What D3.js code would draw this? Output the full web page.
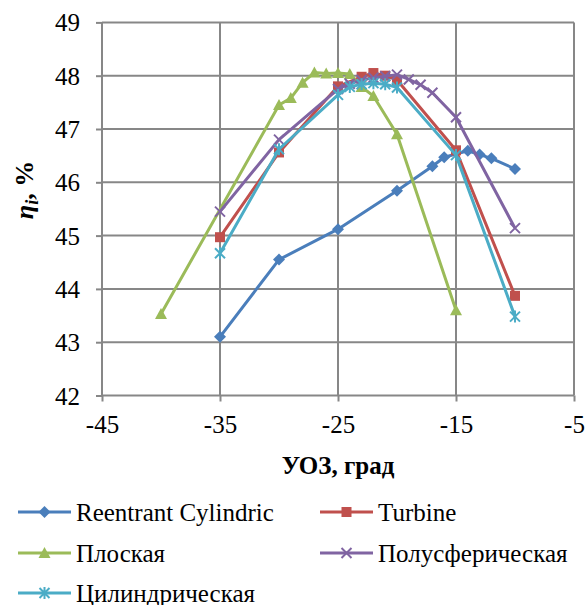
<!DOCTYPE html>
<html>
<head>
<meta charset="utf-8">
<script src="https://cdn.jsdelivr.net/npm/d3@7"></script>
<style>
  html, body { margin: 0; padding: 0; background: #fff; }
</style>
</head>
<body>
<svg id="chart" width="585" height="605"></svg>
<script>
// Ignition advance angle (deg) and indicated efficiency (%) for each chamber shape
const reentrantX = [-35, -30, -25, -20, -17, -16, -14, -13, -12, -10];
const reentrantY = [43.10, 44.55, 45.12, 45.84, 46.30, 46.47, 46.59, 46.52, 46.45, 46.25];

const turbineX = [-35, -30, -25, -23, -22, -21, -20, -15, -10];
const turbineY = [44.97, 46.56, 47.80, 47.98, 48.05, 48.00, 47.92, 46.60, 43.87];

const flatX = [-40, -30, -29, -28, -27, -26, -25, -24, -23, -22, -20, -15];
const flatY = [43.53, 47.45, 47.58, 47.87, 48.06, 48.04, 48.05, 48.03, 47.79, 47.62, 46.90, 43.60];

const hemiX = [-35, -30, -25, -24, -23, -22, -21, -20, -19, -18, -17, -15, -10];
const hemiY = [45.45, 46.80, 47.75, 47.85, 47.92, 47.96, 47.99, 48.02, 47.93, 47.83, 47.68, 47.22, 45.14];

const cylX = [-35, -30, -25, -24, -23, -22, -21, -20, -15, -10];
const cylY = [44.67, 46.62, 47.64, 47.79, 47.84, 47.86, 47.84, 47.78, 46.51, 43.48];

const seriesNames = ["Reentrant Cylindric", "Turbine", "Плоская", "Полусферическая", "Цилиндрическая"];
const seriesColors = ["#4A7EBB", "#C0504D", "#9BBB59", "#8064A2", "#4BACC6"];
const seriesMarkers = ["diamond", "square", "triangle", "cross", "asterisk"];

const xTicks = [-45, -35, -25, -15, -5];
const yTicks = [42, 43, 44, 45, 46, 47, 48, 49];

const xTitle = "УОЗ, град";

const FONT = "Liberation Serif, Tinos, Times New Roman, Times, Noto Serif, DejaVu Serif, FreeSerif, Nimbus Roman, serif";

const series = [
  { x: reentrantX, y: reentrantY },
  { x: turbineX, y: turbineY },
  { x: flatX, y: flatY },
  { x: hemiX, y: hemiY },
  { x: cylX, y: cylY }
].map((s, i) => ({
  name: seriesNames[i], color: seriesColors[i], marker: seriesMarkers[i],
  points: s.x.map((xv, j) => ({ x: xv, y: s.y[j] }))
}));

const svg = d3.select("#chart").style("font-family", FONT);
const plot = { left: 102, right: 574, top: 22.4, bottom: 395.5 };

const x = d3.scaleLinear().domain([-45, -5]).range([plot.left, plot.right]);
const y = d3.scaleLinear().domain([42, 49]).range([plot.bottom, plot.top]);

const gridColor = "#878787";

// Gridlines
const grid = svg.append("g");
grid.selectAll("line.h").data(yTicks).join("line")
  .attr("x1", plot.left).attr("x2", plot.right)
  .attr("y1", d => y(d)).attr("y2", d => y(d))
  .attr("stroke", gridColor).attr("stroke-width", 2);
grid.selectAll("line.v").data(xTicks).join("line")
  .attr("y1", plot.top).attr("y2", plot.bottom)
  .attr("x1", d => x(d)).attr("x2", d => x(d))
  .attr("stroke", gridColor).attr("stroke-width", 2);

// Axes (plain hyphen for negative numbers)
const fmt = d => String(d);
const xAxis = svg.append("g")
  .attr("transform", `translate(0,${plot.bottom})`)
  .call(d3.axisBottom(x).tickValues(xTicks).tickSize(6).tickPadding(14).tickFormat(fmt));
const yAxis = svg.append("g")
  .attr("transform", `translate(${plot.left},0)`)
  .call(d3.axisLeft(y).tickValues(yTicks).tickSize(6).tickPadding(16).tickFormat(fmt));
[xAxis, yAxis].forEach(g => {
  g.attr("font-family", null).attr("font-size", 25);
  g.select(".domain").remove();
  g.selectAll(".tick line").attr("stroke", gridColor).attr("stroke-width", 2);
  g.selectAll(".tick text").attr("fill", "#000").style("font-family", FONT);
});
yAxis.selectAll(".tick text").attr("dy", "0.34em");

// Axis titles
svg.append("text")
  .attr("x", x(-25)).attr("y", 474)
  .attr("text-anchor", "middle")
  .style("font-family", FONT)
  .attr("font-size", 25).attr("font-weight", "bold")
  .text(xTitle);

const yTitle = svg.append("text")
  .attr("transform", "translate(33,190) rotate(-90)")
  .attr("text-anchor", "middle")
  .style("font-family", FONT)
  .attr("font-size", 26).attr("font-weight", "bold");
yTitle.append("tspan").attr("font-style", "italic").text("η");
yTitle.append("tspan").attr("font-style", "italic").attr("font-size", 18).attr("dy", 5).text("i");
yTitle.append("tspan").attr("dy", -5).text(", %");

// Marker drawing
function drawMarker(g, type, color) {
  switch (type) {
    case "diamond":
      g.append("path").attr("d", "M0,-6L6,0L0,6L-6,0Z").attr("fill", color);
      break;
    case "square":
      g.append("rect").attr("x", -5).attr("y", -5).attr("width", 10).attr("height", 10).attr("fill", color);
      break;
    case "triangle":
      g.append("path").attr("d", "M0,-6L6,5L-6,5Z").attr("fill", color);
      break;
    case "cross":
      g.append("path").attr("d", "M-5,-5L5,5M-5,5L5,-5").attr("stroke", color).attr("stroke-width", 2).attr("fill", "none");
      break;
    case "asterisk":
      g.append("path").attr("d", "M-5,-5L5,5M-5,5L5,-5M0,-6L0,6").attr("stroke", color).attr("stroke-width", 2).attr("fill", "none");
      break;
  }
}

const line = d3.line().x(d => x(d.x)).y(d => y(d.y));

const seriesG = svg.append("g");
series.forEach(s => {
  const g = seriesG.append("g");
  g.append("path").datum(s.points)
    .attr("d", line).attr("fill", "none")
    .attr("stroke", s.color).attr("stroke-width", 3)
    .attr("stroke-linejoin", "round");
  g.selectAll("g.m").data(s.points).join("g")
    .attr("transform", d => `translate(${x(d.x)},${y(d.y)})`)
    .each(function () { drawMarker(d3.select(this), s.marker, s.color); });
});

// Legend
const legendPos = [
  { lx: 18, ty: 512 }, { lx: 320, ty: 512 },
  { lx: 18, ty: 553 }, { lx: 320, ty: 553 },
  { lx: 18, ty: 593 }
];
const legend = svg.append("g");
series.forEach((s, i) => {
  const p = legendPos[i];
  const g = legend.append("g").attr("transform", `translate(${p.lx},${p.ty})`);
  g.append("line").attr("x1", 0).attr("x2", 53).attr("y1", 0).attr("y2", 0)
    .attr("stroke", s.color).attr("stroke-width", 3);
  drawMarker(g.append("g").attr("transform", "translate(26.5,0)"), s.marker, s.color);
  g.append("text").attr("x", 58).attr("y", 0).attr("dy", "0.34em")
    .style("font-family", FONT)
    .attr("font-size", 25).attr("fill", "#000").text(s.name);
});
</script>
</body>
</html>
